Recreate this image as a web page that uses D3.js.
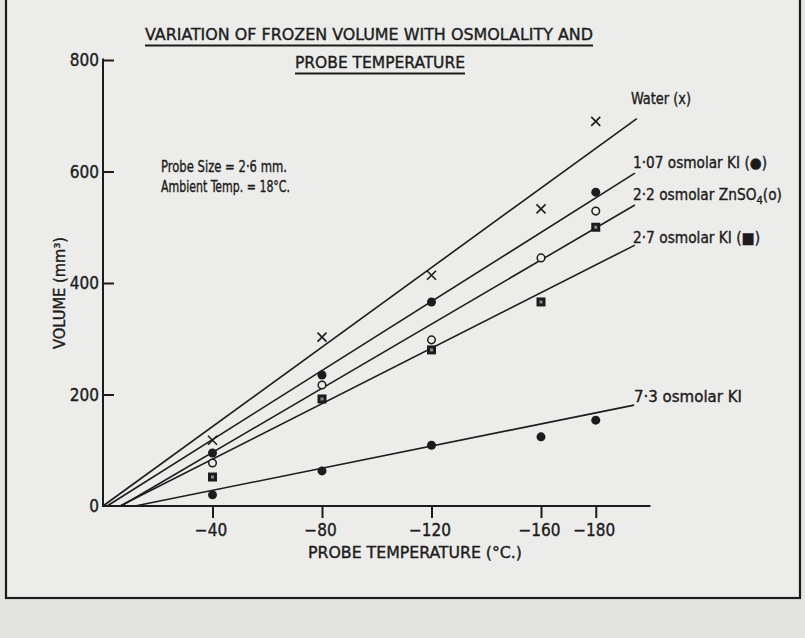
<!DOCTYPE html>
<html>
<head>
<meta charset="utf-8">
<script src="https://cdn.jsdelivr.net/npm/d3@7"></script>
<style>
  html, body { margin: 0; padding: 0; background: #e9e9e7; }
  svg { display: block; }
  text { font-family: "DejaVu Sans Condensed", "DejaVu Sans", sans-serif; fill: #1c1c1c; stroke: #1c1c1c; stroke-width: 0.35px; }
</style>
</head>
<body>
<svg id="chart" width="805" height="638"></svg>
<script>
// ---------- data ----------
const temps = [-40, -80, -120, -160, -180];
const tickTemps = [-40, -80, -120, -160, -180];
const tickLabels = ["\u221240", "\u221280", "\u2212120", "\u2212160", "\u2212180"];
const yTicks = [0, 200, 400, 600, 800];

const waterVals = [118, 303, 414, 533, 690];
const ki107Vals = [95, 235, 366, null, 563];
const znso4Vals = [77, 217, 298, 445, 529];
const ki27Vals  = [52, 192, 280, 366, 500];
const ki73Vals  = [20, 63, 109, 124, 154];

// fitted straight lines: [temperature, volume] start and end
const waterLine = [[0, 0], [-195, 695]];
const ki107Line = [[-1.5, 0], [-194.3, 597]];
const znso4Line = [[-6.6, 0], [-194.3, 540]];
const ki27Line  = [[-6.2, 0], [-194.3, 468]];
const ki73Line  = [[-11.7, 0], [-194, 181]];

const seriesNames = ["Water (x)", "1\u00b707 osmolar KI (\u25cf)", "2\u00b72 osmolar ZnSO", "2\u00b77 osmolar KI (\u25a0)", "7\u00b73 osmolar KI"];

const titleLines = ["VARIATION OF FROZEN VOLUME WITH OSMOLALITY AND", "PROBE TEMPERATURE"];
const noteLines = ["Probe Size = 2\u00b76 mm.", "Ambient Temp. = 18\u00b0C."];

// ---------- drawing ----------
const ink = "#1c1c1c";
const svg = d3.select("#chart");

// photo frame
svg.append("rect").attr("x", 0).attr("y", 0).attr("width", 805).attr("height", 638).attr("fill", "#e4e4e2");
svg.append("rect").attr("x", 6).attr("y", -10).attr("width", 794).attr("height", 608)
  .attr("fill", "#ececea").attr("stroke", ink).attr("stroke-width", 2.2);

const x = d3.scaleLinear().domain([0, -200]).range([103, 650.5]);
const y = d3.scaleLinear().domain([0, 800]).range([506, 60]);

// axes
const yAxis = d3.axisLeft(y).tickValues(yTicks.slice(1)).tickSize(-11).tickPadding(15).tickFormat(d3.format("d"));
const gy = svg.append("g").attr("transform", `translate(${x(0)},0)`).call(yAxis);
gy.select(".domain").attr("d", `M0,${y(0)}V${y(800) - 1.5}`).attr("stroke", ink).attr("stroke-width", 2);
gy.selectAll(".tick line").attr("stroke", ink).attr("stroke-width", 2);
gy.selectAll(".tick text").attr("font-size", 17).attr("fill", ink).attr("dy", "0.35em").attr("dx", 11)
  .style("font-family", "'DejaVu Sans Condensed', 'DejaVu Sans', sans-serif");
svg.append("text").attr("x", x(0) - 4).attr("y", y(0) + 6).attr("text-anchor", "end")
  .attr("font-size", 17).text("0");

const xAxis = d3.axisBottom(x).tickValues(tickTemps).tickSize(12).tickPadding(6)
  .tickFormat((d, i) => tickLabels[i]);
const gx = svg.append("g").attr("transform", `translate(0,${y(0)})`).call(xAxis);
gx.select(".domain").attr("d", `M${x(0) - 1},0H${x(-200)}`).attr("stroke", ink).attr("stroke-width", 2);
gx.selectAll(".tick line").attr("stroke", ink).attr("stroke-width", 2);
gx.selectAll(".tick text").attr("font-size", 17).attr("fill", ink).attr("dx", -2)
  .style("font-family", "'DejaVu Sans Condensed', 'DejaVu Sans', sans-serif");

// axis titles
svg.append("text").attr("x", 415).attr("y", 558).attr("text-anchor", "middle")
  .attr("font-size", 16).attr("textLength", 214).attr("lengthAdjust", "spacingAndGlyphs")
  .text("PROBE TEMPERATURE (\u00b0C.)");
svg.append("text").attr("transform", "translate(65,293) rotate(-90)").attr("text-anchor", "middle")
  .attr("font-size", 16).attr("textLength", 112).attr("lengthAdjust", "spacingAndGlyphs")
  .text("VOLUME (mm\u00b3)");

// title with underline
svg.append("text").attr("x", 369).attr("y", 40).attr("text-anchor", "middle")
  .attr("font-size", 16).attr("textLength", 448).attr("lengthAdjust", "spacingAndGlyphs").text(titleLines[0]);
svg.append("line").attr("x1", 145).attr("x2", 593).attr("y1", 45.5).attr("y2", 45.5).attr("stroke", ink).attr("stroke-width", 2);
svg.append("text").attr("x", 380).attr("y", 68).attr("text-anchor", "middle")
  .attr("font-size", 16).attr("textLength", 170).attr("lengthAdjust", "spacingAndGlyphs").text(titleLines[1]);
svg.append("line").attr("x1", 295).attr("x2", 465).attr("y1", 73.5).attr("y2", 73.5).attr("stroke", ink).attr("stroke-width", 2);

// notes
svg.append("text").attr("x", 161).attr("y", 172).attr("font-size", 15)
  .attr("textLength", 126).attr("lengthAdjust", "spacingAndGlyphs").text(noteLines[0]);
svg.append("text").attr("x", 161).attr("y", 192).attr("font-size", 15)
  .attr("textLength", 129).attr("lengthAdjust", "spacingAndGlyphs").text(noteLines[1]);

// fitted lines
const lineGen = d3.line().x(d => x(d[0])).y(d => y(d[1]));
[waterLine, ki107Line, znso4Line, ki27Line, ki73Line].forEach(l => {
  svg.append("path").attr("d", lineGen(l)).attr("fill", "none").attr("stroke", ink).attr("stroke-width", 1.6);
});

// series labels
const labelPos = [[631, 104, 60], [633, 168, 134], [633, 200, 149], [633, 243, 127], [634, 402, 108]];
seriesNames.forEach((name, i) => {
  const [lx, ly, lw] = labelPos[i];
  const t = svg.append("text").attr("x", lx).attr("y", ly).attr("font-size", 15);
  if (i === 2) {
    t.append("tspan").text(name);
    t.append("tspan").attr("font-size", 11).attr("dy", 4).text("4");
    t.append("tspan").attr("dy", -4).text("(o)");
    t.attr("textLength", lw).attr("lengthAdjust", "spacingAndGlyphs");
  } else {
    t.text(name).attr("textLength", lw).attr("lengthAdjust", "spacingAndGlyphs");
  }
});

// markers
const pts = (vals) => temps.map((t, i) => ({t, v: vals[i]})).filter(d => d.v !== null);

// water: crosses
svg.append("g").selectAll("path").data(pts(waterVals)).join("path")
  .attr("d", d => { const cx = x(d.t), cy = y(d.v), s = 4.5;
    return `M${cx - s},${cy - s}L${cx + s},${cy + s}M${cx - s},${cy + s}L${cx + s},${cy - s}`; })
  .attr("stroke", ink).attr("stroke-width", 1.6);

// 1.07 KI and 7.3 KI: filled dots
svg.append("g").selectAll("circle").data(pts(ki107Vals).concat(pts(ki73Vals))).join("circle")
  .attr("cx", d => x(d.t)).attr("cy", d => y(d.v)).attr("r", 4.5).attr("fill", ink);

// ZnSO4: open circles
svg.append("g").selectAll("circle").data(pts(znso4Vals)).join("circle")
  .attr("cx", d => x(d.t)).attr("cy", d => y(d.v)).attr("r", 3.8)
  .attr("fill", "#ececea").attr("stroke", ink).attr("stroke-width", 1.5);

// 2.7 KI: boxed squares
const sq = svg.append("g").selectAll("g").data(pts(ki27Vals)).join("g")
  .attr("transform", d => `translate(${x(d.t)},${y(d.v)})`);
sq.append("rect").attr("x", -4.5).attr("y", -4.5).attr("width", 9).attr("height", 9).attr("fill", ink);
sq.append("rect").attr("x", -1.5).attr("y", -1.5).attr("width", 3).attr("height", 3).attr("fill", "#8a8a8a");
</script>
</body>
</html>
